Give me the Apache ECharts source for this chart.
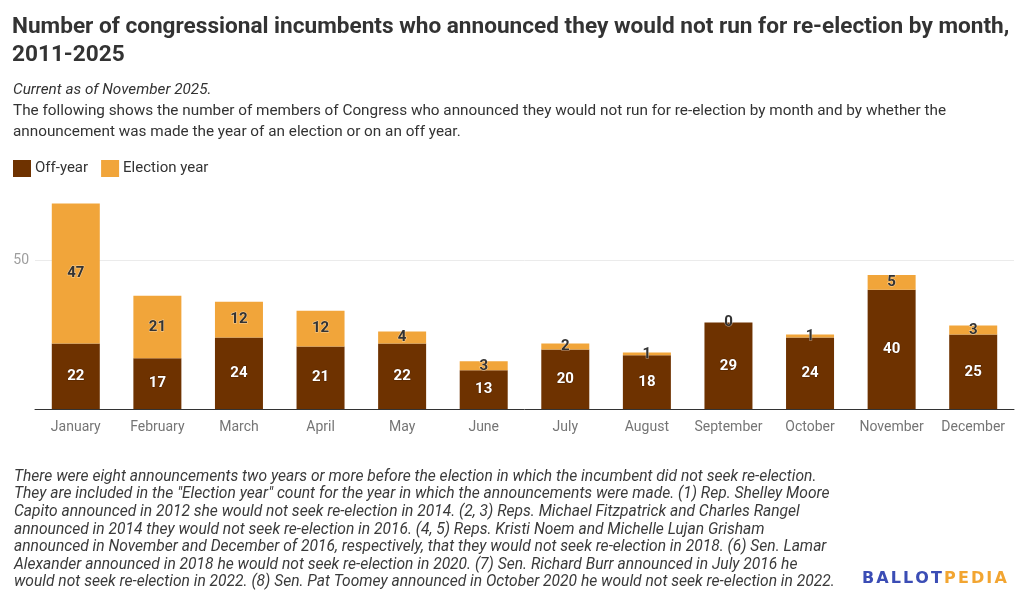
<!DOCTYPE html>
<html>
<head>
<meta charset="utf-8">
<script src="https://cdn.jsdelivr.net/npm/echarts@6/dist/echarts.min.js"></script>
<style>
html,body{margin:0;padding:0;background:#fff;}
#chart{width:1024px;height:602px;}
</style>
</head>
<body>
<div id="chart"></div>
<script>
const months = ['January','February','March','April','May','June','July','August','September','October','November','December'];
const offYear = [22,17,24,21,22,13,20,18,29,24,40,25];
const electionYear = [47,21,12,12,4,3,2,1,0,1,5,3];
const yTicks = [0,50,100];

const titleText = 'Number of congressional incumbents who announced they would not run for re-election by month,\n2011-2025';
const currentText = 'Current as of November 2025.';
const descText = 'The following shows the number of members of Congress who announced they would not run for re-election by month and by whether the\nannouncement was made the year of an election or on an off year.';
const footText = [
  'There were eight announcements two years or more before the election in which the incumbent did not seek re-election.',
  'They are included in the "Election year" count for the year in which the announcements were made. (1) Rep. Shelley Moore',
  'Capito announced in 2012 she would not seek re-election in 2014. (2, 3) Reps. Michael Fitzpatrick and Charles Rangel',
  'announced in 2014 they would not seek re-election in 2016. (4, 5) Reps. Kristi Noem and Michelle Lujan Grisham',
  'announced in November and December of 2016, respectively, that they would not seek re-election in 2018. (6) Sen. Lamar',
  'Alexander announced in 2018 he would not seek re-election in 2020. (7) Sen. Richard Burr announced in July 2016 he',
  'would not seek re-election in 2022. (8) Sen. Pat Toomey announced in October 2020 he would not seek re-election in 2022.'
].join('\n');

function spaced(word, key) {
  return word.split('').map(ch => '{' + key + '|' + ch + '}').join('');
}

const FONT = 'Roboto';
const chart = echarts.init(document.getElementById('chart'));
chart.setOption({
  backgroundColor: '#ffffff',
  animation: false,
  textStyle: {fontFamily: FONT},
  title: [
    {text: titleText, left: 12, top: 13, padding: 0,
     textStyle: {fontFamily: FONT, fontSize: 22.6, fontWeight: 'bold', color: '#333333', lineHeight: 28}},
    {text: currentText, left: 13, top: 80, padding: 0,
     textStyle: {fontFamily: FONT, fontSize: 15.3, fontStyle: 'italic', fontWeight: 'normal', color: '#333333', lineHeight: 21}},
    {text: descText, left: 13, top: 101, padding: 0,
     textStyle: {fontFamily: FONT, fontSize: 15.3, fontWeight: 'normal', color: '#333333', lineHeight: 21}},
    {text: footText, left: 14, top: 468, padding: 0,
     textStyle: {fontFamily: FONT, fontSize: 15.6, fontStyle: 'italic', fontWeight: 'normal', color: '#3a3a3a', lineHeight: 17.6}}
  ],
  legend: {
    left: 13, top: 160, padding: 0,
    itemWidth: 18, itemHeight: 17, itemGap: 13,
    icon: 'rect',
    textStyle: {fontFamily: FONT, fontSize: 15, color: '#333333', padding: [0,0,0,-1]},
    data: ['Off-year','Election year']
  },
  grid: {left: 35, right: 10, top: 111, bottom: 193, containLabel: false},
  xAxis: {
    type: 'category',
    data: months,
    axisLine: {lineStyle: {color: '#333333', width: 1}},
    axisTick: {show: false},
    axisLabel: {interval: 0, fontFamily: FONT, fontSize: 14, color: '#757575', margin: 11}
  },
  yAxis: {
    type: 'value',
    min: yTicks[0], max: yTicks[2], interval: yTicks[1] - yTicks[0],
    axisLine: {show: false},
    axisTick: {show: false},
    axisLabel: {fontFamily: FONT, fontSize: 14, color: '#9e9e9e', margin: 6,
      formatter: v => (v === yTicks[1] ? String(v) : '')},
    splitLine: {lineStyle: {color: ['transparent','#ebebeb','transparent'], width: 1}}
  },
  series: [
    {
      name: 'Off-year', type: 'bar', stack: 'total', data: offYear,
      barWidth: 48,
      itemStyle: {color: '#6e3200'},
      label: {show: true, position: 'inside', fontFamily: FONT, fontSize: 15, fontWeight: 'bold',
        color: '#ffffff', textBorderColor: 'rgba(60,25,0,0.6)', textBorderWidth: 1}
    },
    {
      name: 'Election year', type: 'bar', stack: 'total', data: electionYear,
      barWidth: 48,
      itemStyle: {color: '#f1a53a'},
      label: {show: true, position: 'inside', fontFamily: FONT, fontSize: 15, fontWeight: 'bold',
        color: '#333333', textBorderColor: 'rgba(255,255,255,0.5)', textBorderWidth: 1}
    }
  ],
  graphic: [
    {type: 'text', left: 862, top: 571,
     style: {text: spaced('BALLOT', 'b') + spaced('PEDIA', 'p'),
       rich: {
         b: {fill: '#3b4db5', font: 'bold 16px "DejaVu Sans"', padding: [0, 1.05]},
         p: {fill: '#f2a531', font: 'bold 16px "DejaVu Sans"', padding: [0, 1.05]}
       }}}
  ]
});
</script>
</body>
</html>
